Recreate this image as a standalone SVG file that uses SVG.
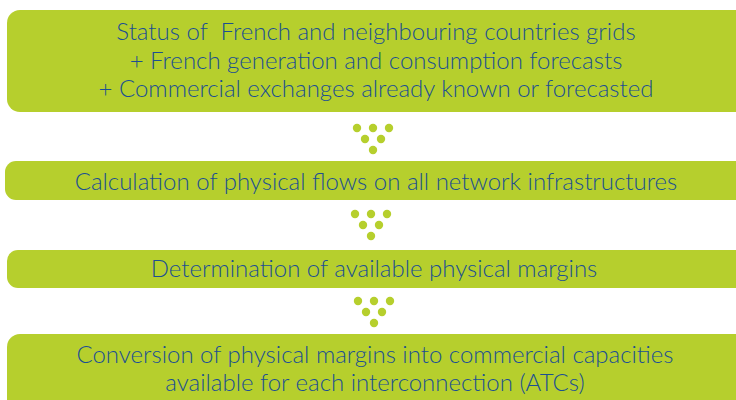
<svg xmlns="http://www.w3.org/2000/svg" width="736" height="400" viewBox="0 0 736 400">
  <style>
    .box { fill: #b6cf2d; }
    .dot { fill: #b6cf2d; }
    .lbl { font-family: Lato, "Open Sans", sans-serif; font-size: 24px; fill: #1c4f92; text-anchor: middle; font-weight: 300; white-space: pre; }
  </style>
  <defs>
    <g id="dots">
      <circle class="dot" cx="-16" cy="0" r="4.2"/>
      <circle class="dot" cx="0" cy="0" r="4.2"/>
      <circle class="dot" cx="16" cy="0" r="4.2"/>
      <circle class="dot" cx="-8" cy="11" r="4.2"/>
      <circle class="dot" cx="8" cy="11" r="4.2"/>
      <circle class="dot" cx="0" cy="22" r="4.2"/>
    </g>
  </defs>
  <rect width="736" height="400" fill="#ffffff"/>

  <g id="step1">
    <rect class="box" x="7" y="10" width="745" height="102" rx="13"/>
    <text class="lbl" x="376" y="40" xml:space="preserve">Status of  French and neighbouring countries grids</text>
    <text class="lbl" x="376" y="69">+ French generation and consumption forecasts</text>
    <text class="lbl" x="376" y="97">+ Commercial exchanges already known or forecasted</text>
  </g>
  <g id="step2">
    <rect class="box" x="5" y="161" width="750" height="39" rx="11"/>
    <text class="lbl" x="376" y="190">Calculation of physical flows on all network infrastructures</text>
  </g>
  <g id="step3">
    <rect class="box" x="7" y="250" width="748" height="38" rx="11"/>
    <text class="lbl" x="374" y="277">Determination of available physical margins</text>
  </g>
  <g id="step4">
    <rect class="box" x="7" y="334" width="748" height="80" rx="13"/>
    <text class="lbl" x="375" y="363">Conversion of physical margins into commercial capacities</text>
    <text class="lbl" x="375" y="391">available for each interconnection (ATCs)</text>
  </g>

  <g id="connectors">
    <use href="#dots" x="373" y="128"/>
    <use href="#dots" x="371" y="214"/>
    <use href="#dots" x="374" y="301"/>
  </g>
</svg>
